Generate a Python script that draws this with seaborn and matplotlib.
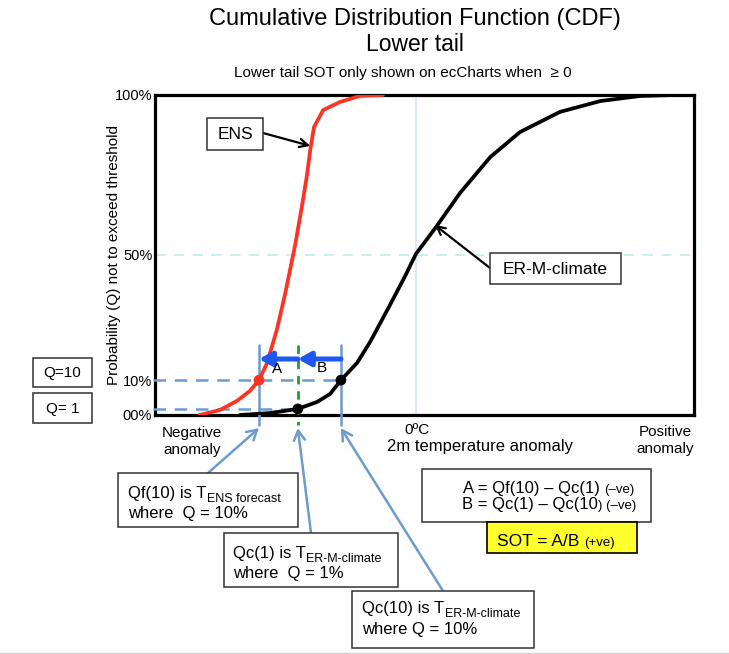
import matplotlib
matplotlib.use("Agg")
import matplotlib.pyplot as plt
import seaborn as sns
from matplotlib.patches import Rectangle
from matplotlib.lines import Line2D
from matplotlib.transforms import Affine2D

# ---------------- data ----------------
ens_x = [8.3, 12.1, 15.2, 17.6, 19.3, 20.8, 22.6, 24.1, 26.0, 27.3, 28.2, 28.8, 29.5, 31.2, 34.3, 38.0, 42.3]
ens_q = [0.0, 1.6, 4.4, 7.5, 10.9, 16.3, 26.6, 37.5, 53.1, 65.6, 75.0, 82.8, 90.0, 95.3, 97.8, 99.7, 100.0]
clim_x = [15.8, 21.3, 26.5, 30.1, 32.5, 34.5, 37.5, 39.9, 43.6, 46.4, 48.4, 52.3, 56.6, 62.2, 67.7, 75.1, 82.6, 90.0, 96.5]
clim_q = [0.0, 0.6, 1.9, 4.1, 6.6, 10.9, 16.3, 22.8, 34.4, 43.4, 50.3, 59.1, 69.4, 80.6, 88.4, 94.7, 98.1, 99.7, 100.0]

q_levels = [10.9, 1.9]            # Q = 10 %, Q = 1 % (as drawn)
q_labels = ["Q=10", "Q= 1"]
qf10, qc1, qc10 = 19.3, 26.5, 34.5  # quantile temperatures
zero_x = 48.4                       # 0 degC
ytick_pos = [0, 10.9, 50, 100]
ytick_labels = ["00%", "10%", "50%", "100%"]

# ---------------- figure ----------------
sns.set_style("white")
plt.rcParams["font.family"] = ["Liberation Sans", "DejaVu Sans"]
plt.rcParams["text.color"] = "black"
plt.rcParams["axes.labelcolor"] = "black"
plt.rcParams["ytick.color"] = "black"
plt.rcParams["xtick.color"] = "black"

W, H = 729, 654
fig = plt.figure(figsize=(W / 100, H / 100), dpi=100)
tr = Affine2D().scale(1 / W, -1 / H).translate(0, 1) + fig.transFigure
ax = fig.add_axes([155 / W, 1 - 415 / H, 539 / W, 320 / H])
ax.set_xlim(0, 100)
ax.set_ylim(0, 100)

# grid
ax.axhline(50, color="#cdeeee", lw=1.5, ls=(0, (5, 4)), zorder=1)
ax.axvline(zero_x, color="#d6eef2", lw=1.5, zorder=1)

# curves
sns.lineplot(x=clim_x, y=clim_q, ax=ax, color="black", lw=2.7, zorder=4)
sns.lineplot(x=ens_x, y=ens_q, ax=ax, color="#ff3322", lw=2.7, zorder=4)

blue = "#6c9bcd"
q10, q1 = q_levels
# dashed horizontal Q lines
ax.plot([-0.4, qc10], [q10, q10], color=blue, lw=1.8, ls=(0, (5, 3.5)), clip_on=False, zorder=3)
ax.plot([-0.4, qc1], [q1, q1], color=blue, lw=1.8, ls=(0, (5, 3.5)), clip_on=False, zorder=3)
# vertical lines
for xv in (qf10, qc10):
    ax.plot([xv, xv], [21.9, -3.0], color=blue, lw=1.8, clip_on=False, zorder=3)
ax.plot([qc1, qc1], [21.9, -3.0], color="#1e9e2a", lw=2.0, ls=(0, (3, 2.5)), clip_on=False, zorder=3)

# thick blue arrows A and B
arr_blue = "#1f58f0"
for x0, x1 in ((qc1, qf10), (qc10, qc1)):
    ax.annotate("", xy=(x1, 17.5), xytext=(x0, 17.5),
                arrowprops=dict(arrowstyle="-|>,head_length=0.75,head_width=0.42",
                                color=arr_blue, lw=3.6, shrinkA=0, shrinkB=0),
                annotation_clip=False, zorder=6)
ax.text(22.6, 14.4, "A", fontsize=11, ha="center", va="center", zorder=6)
ax.text(31.0, 14.7, "B", fontsize=11, ha="center", va="center", zorder=6)

# dots
sns.scatterplot(x=[qf10], y=[q10], ax=ax, color="#ff3322", s=60, edgecolor="none", zorder=7)
sns.scatterplot(x=[qc1, qc10], y=[q1, q10], ax=ax, color="black", s=60, edgecolor="none", zorder=7)

# axes styling
ax.set_xticks([])
ax.set_yticks(ytick_pos, ytick_labels)
ax.tick_params(axis="y", length=0, pad=2, labelsize=10.5, labelcolor="black")
for sp in ax.spines.values():
    sp.set_linewidth(2.3)
    sp.set_color("black")
ax.set_ylabel("Probability (Q) not to exceed threshold", fontsize=11, color="black")
ax.yaxis.set_label_coords(-0.063, 0.5)

# ---------------- helpers ----------------
renderer = fig.canvas.get_renderer()


def box(x0, y0, x1, y1, fc="white", ec="#333333", lw=1.1):
    fig.add_artist(Rectangle((x0, y0), x1 - x0, y1 - y0, transform=tr,
                             fc=fc, ec=ec, lw=lw, zorder=5))


def runs(x, y, parts, center=False):
    objs = []
    for s, size, dy, gap in parts:
        t = fig.text(0, 0, s, fontsize=size, transform=tr, va="baseline", ha="left",
                     zorder=6, color="black")
        objs.append((t, dy, gap))
    widths = [t.get_window_extent(renderer).width for t, _, _ in objs]
    total = sum(widths) + sum(g for _, _, g in objs)
    cx = x - total / 2 if center else x
    for (t, dy, gap), w in zip(objs, widths):
        cx += gap
        t.set_position((cx, y + dy))
        cx += w


def ftext(x, y, s, **kw):
    kw.setdefault("color", "black")
    fig.text(x, y, s, transform=tr, **kw)


# ---------------- titles ----------------
ftext(415, 25, "Cumulative Distribution Function (CDF)", fontsize=17, ha="center", va="baseline")
ftext(415, 51, "Lower tail", fontsize=16.5, ha="center", va="baseline")
ftext(403, 77, "Lower tail SOT only shown on ecCharts when  \u2265 0", fontsize=11, ha="center", va="baseline")

# ---------------- x annotations ----------------
ftext(192, 426, "Negative\nanomaly", fontsize=11, ha="center", va="top", linespacing=1.25)
ftext(665, 425, "Positive\nanomaly", fontsize=11, ha="center", va="top", linespacing=1.25)
ftext(417, 434, "0\u00baC", fontsize=11, ha="center", va="baseline")
ftext(387, 451, "2m temperature anomaly", fontsize=12, ha="left", va="baseline")

# ---------------- Q boxes ----------------
box(33, 358, 92, 387)
box(33, 393, 92, 423)
ftext(62.5, 373, q_labels[0], fontsize=11, ha="center", va="center", zorder=6)
ftext(62.5, 408.5, q_labels[1], fontsize=11, ha="center", va="center", zorder=6)

# ---------------- curve labels ----------------
box(207, 118, 263, 150)
ftext(235, 134.5, "ENS", fontsize=12.5, ha="center", va="center", zorder=6)
ax.annotate("", xy=(28.8, 84.1), xytext=(263, 133), textcoords=tr,
            arrowprops=dict(arrowstyle="->,head_length=0.6,head_width=0.3", color="black",
                            lw=1.6, shrinkA=0, shrinkB=0), annotation_clip=False)
box(490, 253, 621, 284)
ftext(555.5, 269, "ER-M-climate", fontsize=12.5, ha="center", va="center", zorder=6)
ax.annotate("", xy=(51.9, 59.4), xytext=(490, 268), textcoords=tr,
            arrowprops=dict(arrowstyle="->,head_length=0.6,head_width=0.3", color="black",
                            lw=1.6, shrinkA=0, shrinkB=0), annotation_clip=False)

# ---------------- explanation boxes ----------------
for xq, start in ((qf10, (208, 473)), (qc1, (311, 533)), (qc10, (443, 591))):
    ax.annotate("", xy=(xq, -4.1), xytext=start, textcoords=tr,
                arrowprops=dict(arrowstyle="->,head_length=0.7,head_width=0.4", color=blue,
                                lw=1.8, shrinkA=0, shrinkB=0), annotation_clip=False)

box(118, 473, 298, 527)
runs(128, 498, [("Qf(10) is T", 12, 0, 0), ("ENS forecast", 9, 4, 0.5)])
runs(128, 518, [("where  Q = 10%", 12, 0, 0)])

box(224, 533, 398, 587)
runs(233, 558, [("Qc(1) is T", 12, 0, 0), ("ER-M-climate", 9, 4, 0.5)])
runs(233, 578, [("where  Q = 1%", 12, 0, 0)])

box(352, 591, 534, 648)
runs(362, 613, [("Qc(10) is T", 12, 0, 0), ("ER-M-climate", 9, 4, 0.5)])
runs(362, 634, [("where Q = 10%", 12, 0, 0)])

box(422, 469, 651, 522)
runs(463, 493, [("A = Qf(10) \u2013 Qc(1)", 12, 0, 0), ("(\u2013ve)", 9.5, 0, 4)])
runs(462, 509, [("B = Qc(1) \u2013 Qc(10", 12, 0, 0), (") (\u2013ve)", 9.5, 0, 0.5)])

box(487, 522, 637, 553, fc="#ffff2e", ec="black", lw=1.2)
runs(497, 546, [("SOT = A/B", 12.5, 0, 0), ("(+ve)", 9.5, 0, 5)])

fig.add_artist(Line2D([0, W], [652.5, 652.5], transform=tr, color="#d4d4d4", lw=1))

fig.savefig("out.png", dpi=100)
